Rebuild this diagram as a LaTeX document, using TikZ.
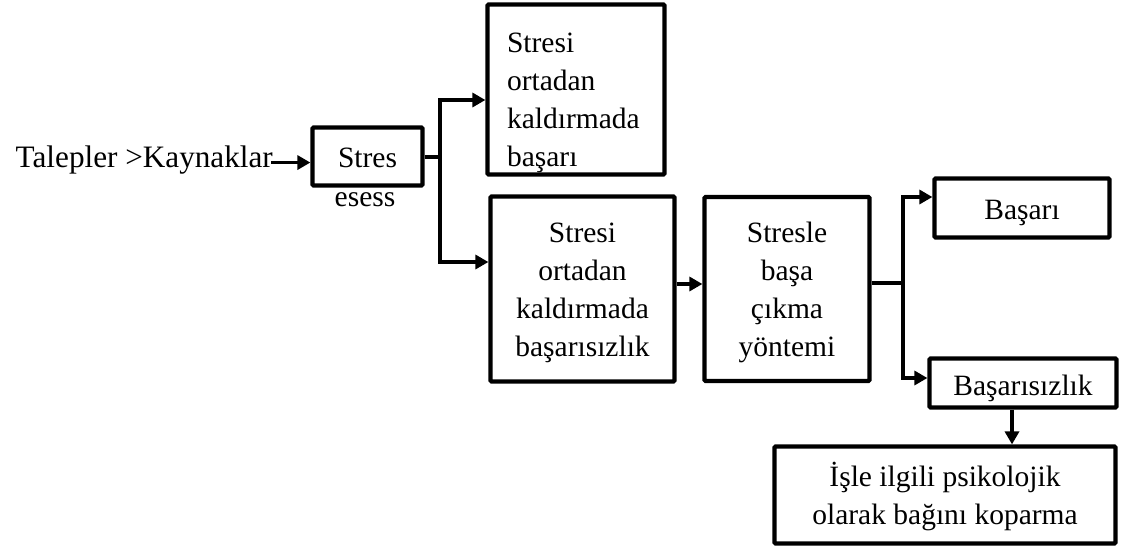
\documentclass[tikz,border=0pt]{standalone}
\usepackage{fontspec}
\setmainfont{Liberation Serif}
\usetikzlibrary{arrows.meta}
\newcommand\mytab[3]{\raisebox{-#2}[\height][\depth]{\begin{tabular}{@{}#1@{}}#3\end{tabular}}}
\begin{document}
\begin{tikzpicture}[x=1pt,y=-1pt,
  every node/.style={font=\fontsize{29.5}{38}\selectfont, inner sep=0pt},
  box/.style={draw, line width=4.2pt, rounded corners=1pt},
  conn/.style={line width=3.2pt},
  arr/.style={line width=3.2pt, -{Triangle[length=13pt,width=14pt]}}]
\useasboundingbox (0,0) rectangle (1124,555);
% nodes
\node[anchor=base east, font=\fontsize{31.2}{38}\selectfont] (tal) at (273,167) {Talepler >Kaynaklar};
\node[box, minimum width=110pt, minimum height=58pt] (stres) at (367.5,156.5) {\mytab{c}{3pt}{Stres}};
\node[anchor=base] (esess) at (365,206) {esess};
\node[box, minimum width=177pt, minimum height=170pt] (b1) at (576,89.5) {\mytab{p{138pt}}{12pt}{Stresi\\ortadan\\kaldırmada\\başarı}};
\node[box, minimum width=184pt, minimum height=185pt] (b2) at (582.5,289) {\mytab{c}{3pt}{Stresi\\ortadan\\kaldırmada\\başarısızlık}};
\node[box, minimum width=165pt, minimum height=184pt] (b3) at (787,289) {\mytab{c}{3pt}{Stresle\\başa\\çıkma\\yöntemi}};
\node[box, minimum width=175pt, minimum height=59pt] (basari) at (1022,208) {\mytab{c}{4pt}{Başarı}};
\node[box, minimum width=187pt, minimum height=49pt] (basarisiz) at (1023,383) {\mytab{c}{5pt}{Başarısızlık}};
\node[box, minimum width=341pt, minimum height=97pt] (kop) at (945,495) {\mytab{c}{3pt}{İşle ilgili psikolojik\\olarak bağını koparma}};
% connectors
\coordinate (t1) at ([yshift=-3pt]tal.east);
\coordinate (j1) at (440,157);
\coordinate (u1) at (440,100);
\coordinate (d1) at (440,262);
\coordinate (j2) at (903,283);
\coordinate (u2) at (903,197);
\coordinate (d2) at (903,378);
\coordinate (v2) at (1012,409);
\draw[arr] ([xshift=-2pt]t1) -- (stres.west |- t1);
\draw[conn] (stres.east |- j1) -- (j1);
\draw[arr] (j1) |- (b1.west |- u1);
\draw[arr] (j1) |- (b2.west |- d1);
\draw[arr] ([yshift=5pt]b2.east) -- ([yshift=5pt]b3.west);
\draw[conn] (b3.east |- j2) -- (j2);
\draw[arr] (j2) |- (basari.west |- u2);
\draw[arr] (j2) |- (basarisiz.west |- d2);
\draw[arr] (basarisiz.south -| v2) -- (kop.north -| v2);
\end{tikzpicture}
\end{document}
